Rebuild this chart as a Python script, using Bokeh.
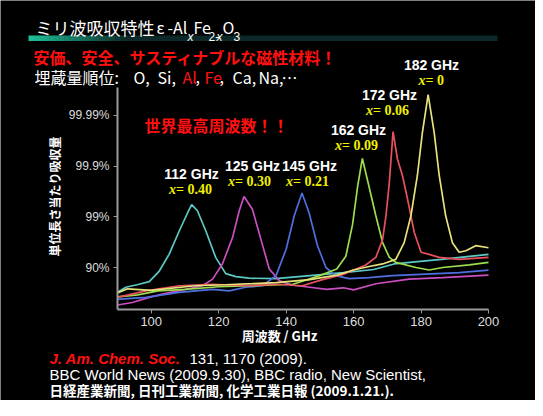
import math
from bokeh.plotting import figure
from bokeh.models import Label, BoxAnnotation, FixedTicker, Range1d
from bokeh.embed import file_html
from bokeh.resources import INLINE

W, H = 535, 400

# ---- data: frequency (GHz) and absorption on a -log10(1-A) scale (1=90%, 2=99%, ...)
freq_cyan = [90, 92.5, 96.4, 99.4, 102.4, 105.3, 108.3, 110.8, 112, 113.7, 116.2, 119.1, 122.1, 125.1, 129, 137, 147, 157, 166, 172, 186, 200]
abs_cyan = [0.51, 0.61, 0.67, 0.72, 0.93, 1.26, 1.72, 2.08, 2.24, 2.12, 1.72, 1.20, 0.88, 0.82, 0.79, 0.78, 0.84, 0.90, 0.96, 1.07, 1.16, 1.26]

freq_magenta = [90, 94.4, 99.4, 104.3, 110.2, 115.2, 118.2, 121.1, 124.1, 126.1, 127.5, 130, 132.5, 135, 138, 142, 147, 152, 157, 160, 166.6, 176.5, 186.4, 200]
abs_magenta = [0.26, 0.31, 0.41, 0.49, 0.57, 0.64, 0.77, 1.07, 1.59, 2.12, 2.40, 2.15, 1.56, 0.97, 0.74, 0.65, 0.61, 0.57, 0.60, 0.56, 0.68, 0.77, 0.80, 0.85]

freq_blue = [90, 98.4, 108.3, 118.2, 123.1, 128, 133, 137, 140, 142.4, 144.7, 146.8, 149.3, 151.8, 154.7, 158.7, 164.6, 171.5, 181.4, 191.3, 200]
abs_blue = [0.37, 0.41, 0.51, 0.57, 0.54, 0.61, 0.64, 0.84, 1.36, 2.02, 2.47, 2.08, 1.43, 1.0, 0.84, 0.78, 0.80, 0.84, 0.87, 0.90, 0.95]

freq_green = [90, 96, 102, 110, 120, 130, 142, 150, 155, 157.7, 159.7, 161.2, 162.6, 164.2, 166.6, 168.6, 170.6, 172.5, 178.5, 182.4, 186.4, 194.3, 200]
abs_green = [0.42, 0.46, 0.54, 0.57, 0.62, 0.64, 0.67, 0.84, 0.97, 1.22, 1.85, 2.6, 3.15, 2.7, 2.02, 1.49, 1.20, 1.10, 1.0, 0.95, 1.0, 1.05, 1.10]

freq_red = [90, 98.4, 108.3, 118.2, 128, 137, 144.8, 150.8, 156.7, 160, 163.6, 166.6, 168.6, 169.6, 170.6, 171.7, 173, 174.5, 176, 178, 180, 182.4, 185.4, 191.3, 200]
abs_red = [0.41, 0.54, 0.64, 0.67, 0.64, 0.67, 0.64, 0.76, 0.86, 0.95, 1.05, 1.20, 1.55, 2.02, 2.68, 3.68, 3.14, 2.81, 2.35, 1.69, 1.30, 1.26, 1.20, 1.16, 1.20]

freq_yellow = [90, 93, 100, 113, 122, 130, 137, 147, 155, 160, 164.6, 168.6, 172.5, 175, 177, 178.9, 180.4, 182.1, 183.9, 185.4, 187.3, 189.3, 191.3, 193.3, 196.2, 200]
abs_yellow = [0.50, 0.58, 0.55, 0.64, 0.66, 0.68, 0.70, 0.76, 0.85, 0.95, 1.02, 1.07, 1.16, 1.49, 2.02, 2.81, 3.66, 4.41, 3.66, 2.81, 2.02, 1.49, 1.30, 1.33, 1.43, 1.39]

x_tick_values = [100, 120, 140, 160, 180, 200]
y_tick_values = [1, 2, 3, 4]
y_tick_labels = ["90%", "99%", "99.9%", "99.99%"]

peak_ghz = ["112 GHz", "125 GHz", "145 GHz", "162 GHz", "172 GHz", "182 GHz"]
peak_x = ["0.40", "0.30", "0.21", "0.09", "0.06", "0"]

series = [
    (freq_cyan, abs_cyan, "#5cc9c4"),
    (freq_magenta, abs_magenta, "#cc4fc2"),
    (freq_blue, abs_blue, "#4f6fe0"),
    (freq_green, abs_green, "#9ddc4c"),
    (freq_red, abs_red, "#e8505e"),
    (freq_yellow, abs_yellow, "#e6e27c"),
]

# chart area in canvas pixels: x 117..488, y 87..309
PX_X = 371 / 110.0          # pixels per GHz
PX_Y = 50.7                 # pixels per decade
X_LO, X_HI = 90, 200
Y_LO, Y_HI = 0.17, 4.55
x_start = X_LO - 117 / PX_X
x_end = X_LO + (W - 117) / PX_X
y_end = 1 + 267 / PX_Y
y_start = 1 - (H - 267) / PX_Y

p = figure(width=W, height=H, output_backend="svg", toolbar_location=None,
           x_range=Range1d(x_start, x_end), y_range=Range1d(y_start, y_end),
           min_border=0, min_border_left=0, min_border_right=0,
           min_border_top=0, min_border_bottom=0)
p.background_fill_color = "black"
p.border_fill_color = "black"
p.outline_line_color = None
p.grid.visible = False

for fx, fy, col in series:
    p.line(fx, fy, line_color=col, line_width=1.7)

for ax in (p.xaxis[0], p.yaxis[0]):
    ax.axis_line_color = "#9a9a9a"
    ax.axis_line_width = 2
    ax.major_tick_line_color = "#9a9a9a"
    ax.major_tick_in = 0
    ax.major_tick_out = 4
    ax.minor_tick_line_color = None
    ax.major_label_text_color = "#dddddd"
    ax.major_label_text_font = "Liberation Sans"

p.xaxis.fixed_location = Y_LO
p.xaxis.bounds = (X_LO, X_HI)
p.yaxis.fixed_location = X_LO
p.yaxis.bounds = (Y_LO, Y_HI)

p.xaxis.ticker = FixedTicker(ticks=x_tick_values)
p.xaxis.major_label_text_font_size = "13px"
p.xaxis.major_label_standoff = 3
p.yaxis.ticker = FixedTicker(ticks=y_tick_values)
p.yaxis.major_label_overrides = {t: s for t, s in zip(y_tick_values, y_tick_labels)}
p.yaxis.major_label_text_font_size = "12px"
p.yaxis.major_label_standoff = 4

JP = "Noto Sans CJK JP"


def txt(x, y, s, size=13, color="white", font="Liberation Sans", style="normal",
        align="left", angle=0.0, baseline="middle"):
    p.add_layout(Label(x=x, y=H - y, x_units="screen", y_units="screen", text=s,
                       text_font=font, text_font_size=f"{size}px", text_color=color,
                       text_font_style=style, text_align=align, text_baseline=baseline,
                       angle=angle))


def box(l, r, t, b, color):
    p.add_layout(BoxAnnotation(left=l, right=r, top=H - t, bottom=H - b,
                               left_units="screen", right_units="screen",
                               top_units="screen", bottom_units="screen",
                               fill_color=color, fill_alpha=1, line_color=None))


# gradient bar under the title (drawn first, texts go over it)
x0, x1, xf = 28, 497, 130
start = (31, 190, 150)
end = (12, 40, 40)
n = 20
for i in range(n):
    t = i / (n - 1)
    c = tuple(int(start[k] + (end[k] - start[k]) * t) for k in range(3))
    box(x0 + (xf - x0) * i / n, x0 + (xf - x0) * (i + 1) / n + 0.5, 35, 40.5, "#%02x%02x%02x" % c)
box(xf, x1, 35, 40.5, "#0c2828")

# title with subscripts (alphabetic baselines)
B1, B2 = 26.5, 36
txt(35, B1, "ミリ波吸収特性", 17, font=JP, baseline="alphabetic")
txt(156, B1, "ε", 16, font=JP, baseline="alphabetic")
txt(167, B1, "-Al", 16, font=JP, baseline="alphabetic")
txt(187, B2, "x", 12, font="Liberation Sans", style="italic", baseline="alphabetic")
txt(193, B1, "Fe", 16, font=JP, baseline="alphabetic")
txt(208, B2, "2-", 12, font="Liberation Sans", baseline="alphabetic")
txt(216, B2, "x", 12, font="Liberation Sans", style="italic", baseline="alphabetic")
txt(222, B1, "O", 16, font=JP, baseline="alphabetic")
txt(233, B2, "3", 12, font="Liberation Sans", baseline="alphabetic")

# headline texts
txt(33, 56, "安価、安全、サスティナブルな磁性材料！", 16, color="#ff1010", font=JP, style="bold")
L2 = 76
txt(34, L2, "埋蔵量順位", 16, font=JP)
for s, xx, col in [(":", 114, "white"), ("O,", 133, "white"), ("Si,", 157, "white"),
                   ("Al", 182, "#ff1010"), (",", 195, "white"), ("Fe", 204, "#ff1010"),
                   (",", 219, "white"), ("Ca,", 232, "white"), ("Na,", 258, "white"),
                   ("⋯", 281, "white")]:
    txt(xx, L2, s, 16, color=col, font=JP)
txt(144, 124, "世界最高周波数！！", 16, color="#ff1010", font=JP, style="bold")

# peak annotations
ghz_pos = [(191, 173), (252, 165), (309, 165), (358, 129), (389, 94), (431, 64)]
xl_pos = [(191, 189), (250, 181), (308, 181), (357, 145), (388, 110), (430, 80)]
for s, (cx, cy) in zip(peak_ghz, ghz_pos):
    txt(cx, cy, s, 14, font="Liberation Sans", style="bold", align="center")
for s, (cx, cy) in zip(peak_x, xl_pos):
    w = 7 + 7 * len(s) + 10
    left = cx - w / 2
    txt(left, cy, "x", 14, color="#f0f000", font="Liberation Serif", style="bold italic")
    txt(left + 7, cy, "= " + s, 14, color="#f0f000", font="Liberation Serif", style="bold")

# axis titles
txt(54, 196, "単位長さ当たり吸収量", 12, font=JP, style="bold", align="center", angle=math.pi / 2)
txt(279, 335, "周波数 / GHz", 13, font=JP, style="bold", align="center")

# references (alphabetic baselines, squeezed to fit the canvas)
txt(49, 358, "J. Am. Chem. Soc.", 15, color="#ff1010", style="bold italic", baseline="alphabetic")
txt(189, 358, "131, 1170 (2009).", 15, baseline="alphabetic")
txt(49, 374, "BBC World News (2009.9.30), BBC radio, New Scientist,", 15, baseline="alphabetic")
txt(49, 389, "日経産業新聞, 日刊工業新聞, 化学工業日報 (2009.1.21.).", 13.5, font=JP, style="bold",
    baseline="alphabetic")

open("out.html", "w").write(file_html(p, INLINE))
